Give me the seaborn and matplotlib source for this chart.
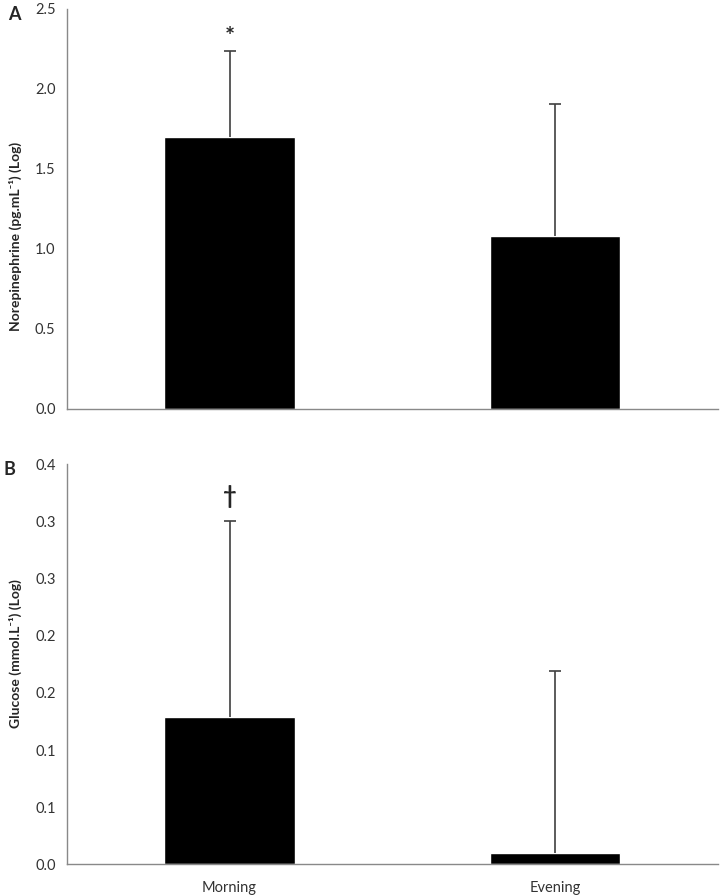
import matplotlib
matplotlib.use("Agg")
from matplotlib import pyplot as plt
import seaborn as sns
import pandas as pd

# Values
groups = ["Morning", "Evening"]
norepinephrine = [1.70, 1.08]
norepinephrine_err = [0.536, 0.826]
glucose = [0.129, 0.0095]
glucose_err = [0.171, 0.160]

ne_ticks = [0.0, 0.5, 1.0, 1.5, 2.0, 2.5]
ne_ticklabels = ["0.0", "0.5", "1.0", "1.5", "2.0", "2.5"]
glu_ticks = [0.0, 0.05, 0.10, 0.15, 0.20, 0.25, 0.30, 0.35]
glu_ticklabels = ["0.0", "0.1", "0.1", "0.2", "0.2", "0.3", "0.3", "0.4"]

FONT = ["Lato", "DejaVu Sans"]
GREY = "#898989"
TXT = "#333333"


def draw_panel(ax, values, errs, ticks, ticklabels, ylabel, label_y, mark, mark_off, show_x):
    df = pd.DataFrame({"group": groups, "value": values})
    sns.barplot(data=df, x="group", y="value", color="black", saturation=1,
                width=0.4, errorbar=None, ax=ax)
    # one-sided (plus) error bars, as in the original spreadsheet chart
    xs = [p.get_x() + p.get_width() / 2 for p in ax.patches]
    eb = ax.errorbar(xs, values, yerr=[[0] * len(errs), errs], fmt="none",
                     ecolor="#404040", elinewidth=1.2, capsize=4, capthick=1.2)
    eb[1][0].set_visible(False)  # drop the lower caps
    ax.set_xlim(-0.5, 1.5)
    ax.set_ylim(ticks[0], ticks[-1])
    ax.set_yticks(ticks)
    ax.set_yticklabels(ticklabels, fontfamily=FONT, fontsize=10.5, color=TXT)
    ax.set_xticks([0, 1])
    if show_x:
        ax.set_xticklabels(groups, fontfamily=FONT, fontsize=10.5, color=TXT)
    else:
        ax.set_xticklabels(["", ""])
    ax.set_xticks([0.5, 1.5], minor=True)
    ax.tick_params(axis="x", which="major", length=0, pad=12)
    ax.tick_params(axis="x", which="minor", length=3, color=GREY, width=1)
    ax.tick_params(axis="y", length=4, color=GREY, width=1, pad=4)
    ax.set_xlabel("")
    ax.set_ylabel(ylabel, fontfamily=FONT, fontsize=10, fontweight="bold")
    ax.yaxis.set_label_coords(-0.069, label_y)
    for s in ["top", "right"]:
        ax.spines[s].set_visible(False)
    for s in ["left", "bottom"]:
        ax.spines[s].set_color(GREY)
        ax.spines[s].set_linewidth(1)
    # significance marker above the morning error bar
    ax.annotate(mark, xy=(xs[0], values[0] + errs[0]), xytext=(0, mark_off),
                textcoords="offset points", ha="center", va="center",
                fontsize=17, fontweight="bold", fontfamily=FONT)


sns.set_style("white")
fig = plt.figure(figsize=(7.24, 8.96), dpi=100)
ax1 = fig.add_axes([0.0921, 0.5439, 0.8996, 0.4461])
ax2 = fig.add_axes([0.0921, 0.0354, 0.8996, 0.4464])

draw_panel(ax1, norepinephrine, norepinephrine_err, ne_ticks, ne_ticklabels,
           "Norepinephrine (pg.mL⁻¹) (Log)", 0.432, "*", 10, False)
draw_panel(ax2, glucose, glucose_err, glu_ticks, glu_ticklabels,
           "Glucose (mmol.L⁻¹) (Log)", 0.528, "†", 18, True)

fig.text(14 / 724, 1 - 15 / 896, "A", fontsize=13, fontweight="bold",
         fontfamily=FONT, ha="center", va="center")
fig.text(9 / 724, 1 - 469 / 896, "B", fontsize=13, fontweight="bold",
         fontfamily=FONT, ha="center", va="center")

fig.savefig("out.png", dpi=100)
